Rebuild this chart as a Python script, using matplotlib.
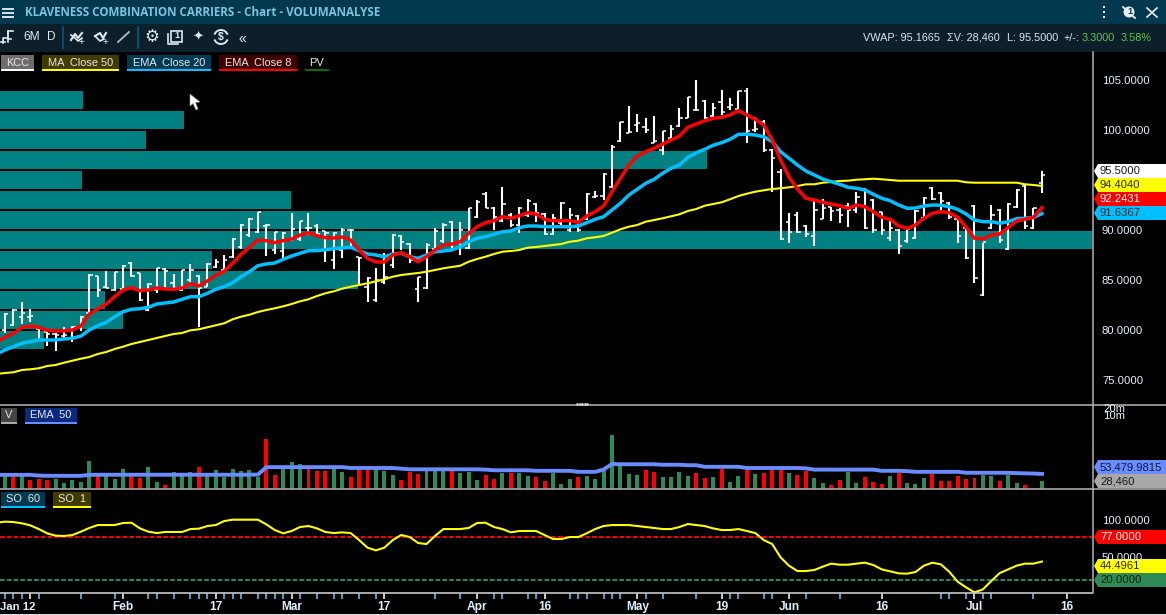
import numpy as np
import matplotlib
matplotlib.use('Agg')
import matplotlib.pyplot as plt
from matplotlib.patches import Arc, Circle, Polygon, Rectangle

plt.rcParams['font.family'] = ['Liberation Sans', 'DejaVu Sans']

# OHLC, one value per trading day
highs = [81.67, 82.07, 82.77, 82.07, 80.17, 79.83, 79.67, 80.33, 80.4, 81.4, 85.6, 85.43, 85.9, 85.83, 86.5, 86.77, 85.73, 84.67, 86.23, 86.23, 85.6, 86.0, 86.57, 85.5, 86.73, 87.07, 87.5, 89.17, 90.57, 91.23, 91.83, 90.6, 89.83, 89.83, 91.67, 90.93, 91.67, 90.57, 89.93, 89.77, 90.23, 90.1, 87.33, 85.27, 86.23, 87.67, 89.57,
         89.5, 88.67, 85.33, 88.73, 90.17, 90.73, 90.93, 90.83, 92.23, 93.0, 93.83, 92.27, 94.27, 91.67, 92.33, 93.07, 92.73, 91.73, 91.57, 92.83, 92.17, 91.5, 93.67, 93.93, 95.67, 98.5, 100.83, 102.4, 101.57, 101.17, 101.4, 99.93, 100.5, 102.23, 103.33, 105.0, 103.0, 102.73, 104.0, 103.17, 103.93, 104.17, 101.33, 101.0,
         98.1, 96.07, 91.73, 91.83, 90.5, 93.07, 93.07, 92.33, 92.17, 92.67, 93.83, 94.23, 93.07, 91.83, 91.0, 90.07, 90.33, 92.0, 93.33, 94.27, 93.83, 92.83, 91.17, 90.33, 92.5, 88.67, 92.5, 92.07, 92.73, 94.07, 94.57, 92.23, 95.93]
lows = [79.67, 80.4, 80.6, 80.83, 79.1, 78.43, 77.93, 79.0, 78.83, 79.93, 81.67, 83.27, 84.17, 83.93, 84.0, 85.33, 82.93, 81.9, 83.73, 84.0, 84.0, 83.93, 84.67, 80.33, 84.27, 86.17, 85.83, 87.17, 88.07, 89.33, 89.67, 87.43, 87.57, 87.07, 88.93, 88.93, 89.5, 89.33, 86.83, 86.1, 87.17, 88.17, 84.6, 82.83, 82.83, 84.57, 86.17,
        88.0, 86.67, 82.83, 84.07, 88.0, 88.67, 88.0, 87.5, 88.07, 91.23, 92.17, 90.0, 90.83, 90.33, 89.67, 91.33, 90.83, 89.5, 89.5, 90.5, 89.83, 89.83, 91.0, 93.17, 93.0, 94.17, 98.83, 99.67, 99.83, 99.67, 98.67, 97.5, 99.17, 100.33, 101.17, 101.93, 101.0, 101.33, 101.5, 102.0, 102.0, 98.67, 99.83, 97.83,
        93.83, 89.0, 88.73, 89.73, 89.33, 88.4, 91.07, 90.93, 90.67, 90.33, 91.67, 90.07, 89.73, 89.5, 88.93, 87.6, 88.73, 89.07, 91.07, 93.0, 91.67, 91.07, 88.73, 87.07, 84.67, 83.43, 90.07, 88.73, 88.0, 92.17, 90.07, 90.07, 93.67]
opens = [80.0, 80.5, 81.3, 81.3, 80.1, 79.8, 79.6, 79.4, 79.9, 80.3, 81.7, 85.4, 84.3, 84.0, 84.1, 86.7, 85.7, 82.0, 84.0, 86.1, 84.7, 84.0, 85.0, 85.4, 84.3, 86.3, 86.0, 87.3, 88.3, 89.5, 89.8, 90.4, 88.0, 87.9, 89.0, 89.1, 90.2, 90.4, 89.9, 87.0, 88.0, 90.0, 87.3, 84.3, 83.0, 84.8, 86.5,
         89.4, 88.6, 84.1, 84.2, 88.1, 88.9, 90.8, 88.3, 88.2, 91.3, 93.6, 92.2, 90.9, 91.5, 90.5, 91.5, 92.6, 91.6, 89.6, 90.7, 90.0, 91.4, 91.1, 93.3, 93.4, 94.3, 98.9, 99.7, 100.5, 100.3, 98.7, 98.0, 99.2, 100.4, 101.2, 102.0, 102.9, 101.4, 102.8, 102.3, 102.1, 103.9, 100.0, 100.8,
         98.0, 95.8, 90.8, 91.5, 90.4, 89.4, 91.1, 92.3, 92.0, 92.4, 92.0, 94.1, 93.0, 91.8, 89.2, 90.0, 88.9, 89.2, 91.2, 94.2, 93.7, 92.7, 91.1, 90.2, 92.4, 83.5, 90.2, 92.0, 88.1, 92.3, 94.4, 90.2, 94.7]
closes = [81.6, 82.0, 81.7, 81.4, 80.1, 79.6, 79.5, 79.5, 80.3, 81.3, 85.5, 84.0, 84.2, 85.8, 86.4, 85.4, 83.0, 84.6, 86.2, 85.9, 84.2, 86.0, 86.0, 84.2, 86.6, 86.8, 87.0, 89.1, 90.5, 91.1, 91.8, 90.5, 89.8, 89.7, 90.1, 90.9, 90.2, 89.6, 89.7, 89.7, 90.0, 90.0, 87.2, 85.2, 85.0, 85.3, 89.5,
          88.8, 87.0, 85.3, 88.5, 89.9, 90.5, 88.1, 90.0, 92.2, 92.8, 92.2, 91.3, 92.6, 90.5, 92.2, 92.9, 91.7, 89.6, 91.2, 92.7, 91.5, 90.0, 93.6, 93.4, 95.6, 98.3, 100.8, 99.8, 100.7, 100.0, 98.9, 99.9, 100.1, 101.2, 103.3, 102.0, 101.2, 102.2, 101.8, 102.5, 103.9, 99.9, 100.1, 98.0,
          97.2, 89.1, 89.8, 89.8, 89.6, 92.0, 92.2, 91.9, 91.5, 92.0, 93.3, 90.2, 90.0, 90.0, 90.2, 88.4, 90.1, 91.9, 93.2, 93.1, 92.9, 91.3, 89.4, 87.2, 85.2, 88.8, 91.5, 89.0, 92.6, 94.0, 90.4, 92.2, 95.5]

# moving averages, first value sits just off the left edge (day -1)
ma50 = [75.6, 75.7, 75.77, 76.0, 76.07, 76.17, 76.4, 76.5, 76.73, 76.93, 77.13, 77.3, 77.6, 77.8, 78.1, 78.33, 78.6, 78.8, 79.0, 79.2, 79.4, 79.6, 79.7, 79.97, 80.07, 80.27, 80.47, 80.67, 81.07, 81.33, 81.53, 81.8, 82.0, 82.17, 82.37, 82.6, 82.87, 83.07, 83.4, 83.67, 83.87, 84.13, 84.33, 84.5, 84.67, 84.87, 85.07, 85.33,
        85.5, 85.6, 85.7, 85.83, 86.0, 86.17, 86.3, 86.43, 86.83, 87.1, 87.33, 87.6, 87.83, 87.9, 88.0, 88.23, 88.3, 88.4, 88.5, 88.6, 88.83, 88.93, 89.17, 89.27, 89.4, 89.73, 90.07, 90.33, 90.5, 90.83, 91.0, 91.17, 91.37, 91.57, 91.9, 92.1, 92.43, 92.6, 92.77, 93.07, 93.4, 93.63, 93.83, 93.97, 94.1, 94.17, 94.27, 94.4,
        94.57, 94.57, 94.73, 94.8, 94.9, 94.93, 95.03, 95.07, 95.13, 95.07, 95.0, 94.93, 94.93, 94.93, 94.93, 94.93, 94.93, 94.93, 94.93, 94.77, 94.73, 94.73, 94.73, 94.73, 94.73, 94.73, 94.57, 94.5, 94.404]
ema20 = [77.6, 78.0, 78.33, 78.67, 78.83, 79.0, 79.0, 79.0, 79.1, 79.17, 79.4, 80.0, 80.43, 80.77, 81.33, 81.83, 82.07, 82.13, 82.27, 82.6, 82.7, 82.8, 83.07, 83.33, 83.33, 83.67, 84.07, 84.33, 84.73, 85.33, 85.83, 86.43, 86.6, 86.7, 87.07, 87.4, 87.67, 87.93, 87.93, 88.03, 88.13, 88.2, 88.27, 87.93, 87.6, 87.5, 87.33, 87.6,
         87.67, 87.33, 87.17, 87.5, 87.83, 87.9, 88.0, 88.33, 88.83, 89.17, 89.33, 89.57, 89.83, 89.9, 90.23, 90.4, 90.4, 90.33, 90.33, 90.33, 90.33, 90.4, 90.73, 91.07, 91.33, 92.0, 92.67, 93.5, 94.07, 94.67, 95.07, 95.67, 96.17, 96.5, 97.27, 97.73, 98.07, 98.47, 98.73, 99.07, 99.57, 99.57, 99.5, 99.33, 98.83, 97.83, 97.17, 96.5,
         95.9, 95.5, 95.1, 94.83, 94.57, 94.27, 94.17, 94.0, 93.57, 93.17, 92.93, 92.5, 92.17, 92.2, 92.4, 92.5, 92.47, 92.33, 92.07, 91.6, 91.0, 90.83, 90.83, 90.67, 90.83, 91.13, 91.17, 91.27, 91.6367]
ema8 = [78.8, 79.27, 79.67, 80.27, 80.4, 80.27, 79.97, 79.9, 79.9, 80.0, 80.4, 81.6, 82.1, 82.6, 83.33, 84.0, 84.23, 83.93, 84.0, 84.2, 84.1, 84.07, 84.2, 84.63, 84.4, 84.9, 85.47, 85.87, 86.67, 87.57, 88.27, 89.0, 88.93, 88.73, 88.93, 89.1, 89.5, 89.73, 89.43, 89.23, 89.2, 89.3, 89.0, 88.0, 87.17, 86.8, 86.8, 87.5,
        87.73, 87.33, 86.83, 87.33, 88.0, 88.5, 88.6, 88.83, 89.67, 90.33, 90.73, 90.93, 91.33, 91.17, 91.43, 91.73, 91.6, 91.07, 90.93, 90.93, 90.93, 90.77, 91.4, 91.83, 92.4, 93.83, 95.17, 96.5, 97.4, 97.83, 98.17, 98.6, 99.0, 99.4, 100.27, 100.6, 100.93, 101.17, 101.27, 101.5, 101.93, 101.5, 101.07, 100.5, 99.0, 97.0, 95.3, 94.1,
        93.17, 93.0, 92.77, 92.6, 92.43, 92.17, 92.5, 92.33, 91.83, 91.27, 91.07, 90.4, 90.17, 90.5, 91.17, 91.67, 91.83, 91.73, 91.27, 90.27, 89.17, 89.1, 89.5, 89.6, 90.27, 90.9, 91.07, 91.27, 92.2431]

# volume profile: price row and row length in screen pixels of the left edge
pv_prices = [103, 101, 99, 97, 95, 93, 91, 89, 87, 85, 83, 81, 79]
pv_lengths = [83, 184, 146, 707, 82, 291, 471, 1092, 212, 358, 105, 123, 44]

# volume in thousands, u = green bar, d = red bar
volumes = [42, 39.5, 42, 29, 33.3, 29, 31.5, 23.7, 29, 24.3, 167, 42, 42, 33.3, 84.6, 42, 36.3, 100, 24.3, 18.7, 60.3, 42, 60.3, 100, 46.8, 71.5, 39.5, 84.6, 65.7, 71.5, 39.5, 1170, 46.8, 77.9, 153, 129, 77.9, 65.7, 65.7, 77.9, 60.3, 39.5, 77.9, 77.9, 77.9, 65.7, 46.8,
           30.6, 60.3, 51, 71.5, 71.5, 65.7, 65.7, 55.4, 60.3, 30.6, 46.8, 33.3, 55.4, 55.4, 55.4, 43, 39.5, 28.5, 55.4, 20, 33.3, 39.5, 43, 33.3, 91.8, 1674, 109, 51, 46.8, 71.5, 60.3, 39.5, 39.5, 60.3, 43, 55.4, 36.3, 39.5, 77.9, 25.9, 43, 71.5, 51, 55.4, 71.5, 71.5, 55.4, 46.8,
           65.7, 36.3, 21.8, 18.2, 30.6, 60.3, 21.8, 39.5, 25.9, 20, 43, 55.4, 23.7, 20, 36.3, 51, 28.5, 28.5, 43, 33.3, 36.3, 46.8, 43, 28.5, 46.8, 21.8, 18.2, 14.4, 28.46]
vol_dirs = ('ududdduuuu' 'uduuudduud' 'uuuduuuuuu' 'udduuudddu' 'udddu' 'uu'
            'ddduuuduuu' 'dduduudduu' 'uduuuuuuud' 'duuuuddudu' 'ududdduddu'
            'udduudddud' 'uuuddddddu' 'uduuduu')
vol_ema = [49, 49, 49, 49, 49, 46, 45, 45, 45, 45, 45, 49, 49.5, 49.5, 49.5, 49.5, 49.5, 49.5, 49.5, 49.5, 49.5, 49.5, 49.5, 49.5, 49.5, 49.5, 49.5, 49.5, 49.5, 49.5, 50, 50, 97, 97, 97, 97, 97, 97, 97, 97, 97, 97, 90, 90, 90, 90, 90, 90,
           84.6, 80, 80, 80, 80, 80, 80, 80, 80, 80, 78, 73.5, 73.5, 73.5, 73.5, 73.5, 70, 70, 70, 70, 70, 64, 64, 64, 78, 129, 125, 125, 125, 125, 125, 120, 120, 120, 115, 115, 100, 100, 100, 100, 100, 90, 90, 90, 90, 90, 90, 90,
           87, 78, 78, 78, 78, 78, 78, 78, 78, 70, 70, 70, 68, 64, 64, 64, 64, 64, 64, 59, 59, 59, 59, 59, 59, 57, 56, 55, 53.48]

# stochastic, SO 1, first value just off the left edge as well
so1 = [96, 97.4, 96.9, 95.2, 92.5, 87.6, 81.9, 78.8, 78.4, 79.7, 84.1, 89, 92.9, 92.9, 92.9, 95.6, 96, 88.5, 84.1, 82.3, 83.7, 83.7, 83.7, 87.6, 88.1, 91.6, 92.9, 98.2, 100, 100, 100, 100, 93.8, 86.3, 81.9, 85, 90.3, 91.6, 88.5, 83.7, 82.3, 83.2, 82.3, 73, 62.9, 59.3, 62.9, 73,
       79.7, 77, 69.1, 67.7, 78.4, 87.6, 87.6, 87.6, 89, 95.6, 96, 90.3, 87.6, 83.2, 85, 85, 85, 79.7, 74.4, 74.4, 77, 77, 81.9, 87.6, 91.6, 92.9, 92.9, 92.9, 91.6, 90.3, 89, 87.6, 87.6, 90.3, 94.3, 92.9, 91.6, 88.5, 86.3, 86.3, 87.6, 85, 82.3, 73,
       67.7, 50.1, 39, 31.9, 31.9, 33.3, 37.7, 41.7, 40.3, 40.3, 41.7, 43, 39.9, 34.1, 31.5, 28.8, 28.4, 30.6, 39, 43, 40.8, 31.1, 17.8, 10.3, 3.6, 7.6, 18.7, 29.3, 34.1, 39, 41.7, 41.7, 44.4961]
so_upper = 77
so_lower = 20

# date ticks
date_days = [3, 14, 25, 34, 45, 56, 64, 75, 85, 93, 104, 115, 126]
date_labels = ['', 'Feb', '17', 'Mar', '17', 'Apr', '16', 'May', '19', 'Jun', '16', 'Jul', '16']
blue_days = [0, 1, 2, 4, 9, 13, 17, 18, 20, 22, 23, 24, 27, 28, 30, 31, 32, 33, 35, 37, 39, 40, 42, 44, 51, 54, 58, 59, 62, 63, 67, 68, 69, 71, 72, 73, 76, 82, 86, 87, 90, 91, 95, 99, 111, 112, 114, 116, 117, 122]
red_days = [26, 78]

W, H = 1166, 615
BG = '#000000'
TEAL = '#008080'
YELLOW = '#ffff00'
CYAN = '#00bfff'
RED = '#ff0000'
GREEN = '#2e8b57'
PERI = '#6a8cff'
LABEL = '#e6f2fb'


def px_axes(x0, y0, x1, y1, **kw):
    return fig.add_axes([x0 / W, 1 - y1 / H, (x1 - x0) / W, (y1 - y0) / H], **kw)


fig = plt.figure(figsize=(W / 100, H / 100), dpi=100, facecolor=BG)

days = np.arange(len(highs))
line_days = np.arange(-1, len(highs))
x_lim = (-0.593, 128.94)

# volume profile sits behind the price bars
ax_pv = px_axes(0, 52, 1092, 404.5, facecolor=BG)
ax_pv.barh(pv_prices, pv_lengths, height=1.8, color=TEAL)
ax_pv.set_xlim(0, 1092)
ax_pv.set_ylim(72.55, 107.8)
ax_pv.axis('off')

# price panel
ax = px_axes(0, 52, 1092, 404.5)
ax.patch.set_alpha(0)
ax.vlines(days, lows, highs, color='white', lw=1.5, zorder=2)
ax.hlines(opens, days - 0.38, days, color='white', lw=1.1, zorder=2)
ax.hlines(closes, days, days + 0.38, color='white', lw=1.1, zorder=2)
ax.plot(line_days, ma50, color=YELLOW, lw=1.5, zorder=3)
ax.plot(line_days, ema20, color=CYAN, lw=2.5, zorder=4)
ax.plot(line_days, ema8, color=RED, lw=2.5, zorder=5)
ax.set_xlim(x_lim)
ax.set_ylim(72.55, 107.8)
ax.axis('off')

# volume panel, log scale
ax_v = px_axes(0, 405, 1092, 489, facecolor=BG)
vol = np.array(volumes) * 1000
vol_colors = [GREEN if d == 'u' else RED for d in vol_dirs]
ax_v.bar(days, vol, width=0.47, bottom=1000, color=vol_colors)
ax_v.plot(line_days, np.array(vol_ema) * 1000, color=PERI, lw=2.8)
ax_v.set_yscale('log')
ax_v.set_xlim(x_lim)
ax_v.set_ylim(14000, 23800000)
ax_v.axis('off')

# stochastic panel
ax_s = px_axes(0, 490, 1092, 593, facecolor=BG)
ax_s.axhline(so_upper, color=RED, lw=1.4, ls=(0, (2.4, 1.1)))
ax_s.axhline(so_lower, color=GREEN, lw=1.4, ls=(0, (2.4, 1.1)))
ax_s.plot(line_days, so1, color=YELLOW, lw=1.5)
ax_s.set_xlim(x_lim)
ax_s.set_ylim(2.76, 139.4)
ax_s.set_yticks([])
for side in ['left', 'top', 'right']:
    ax_s.spines[side].set_visible(False)
ax_s.spines['bottom'].set_color('#c8c8c8')
ax_s.spines['bottom'].set_linewidth(1.2)
ax_s.set_xticks(date_days, date_labels)
ax_s.set_xticks(blue_days + red_days, minor=True)
ax_s.tick_params(axis='x', which='major', colors='white', length=4.2, width=1.1, pad=1.5, labelsize=8.6)
ax_s.tick_params(axis='x', which='minor', color='#66ccff', length=4.2, width=1.1)
for tick, day in zip(ax_s.xaxis.get_minor_ticks(), blue_days + red_days):
    if day in red_days:
        tick.tick1line.set_color('#ff6060')
for lbl in ax_s.get_xticklabels():
    lbl.set_fontweight('bold')
    lbl.set_color('#dff0fb')

# window chrome, drawn in pixel coordinates
ui = fig.add_axes([0, 0, 1, 1])
ui.patch.set_alpha(0)
ui.set_xlim(0, W)
ui.set_ylim(H, 0)
ui.axis('off')

ui.add_patch(Rectangle((0, 0), W, 24, color='#003850', lw=0))
ui.add_patch(Rectangle((0, 24), W, 27.5, color='#0c1f2b', lw=0))
ui.add_patch(Rectangle((0, 614), W, 1, color='#dddddd', lw=0))
for y in [8.5, 12.5, 16.5]:
    ui.plot([2, 14], [y, y], color='#d5e6ee', lw=1.4, solid_capstyle='butt')
ui.text(25, 12, 'KLAVENESS COMBINATION CARRIERS - Chart - VOLUMANALYSE', color='#7cc4dc',
        fontsize=8.35, fontweight='bold', family=['Open Sans', 'DejaVu Sans'], va='center')

# toolbar
icon = '#dfe9ef'
ui.plot([3, 3, 8, 8, 13], [43, 38, 38, 31, 31], color=icon, lw=1.2)
ui.plot([1, 5], [42, 42], color=icon, lw=1.2)
ui.plot([8, 8], [31, 42], color=icon, lw=1.2)
ui.plot([8, 11], [39, 39], color=icon, lw=1.2)
ui.text(23, 37, '6M', color=icon, fontsize=8.6, va='center')
ui.text(47, 37, 'D', color=icon, fontsize=8.6, va='center')
ui.plot([62.5, 62.5], [27, 48], color='#0b5878', lw=1.2)
ui.plot([137.5, 137.5], [27, 48], color='#0b5878', lw=1.2)
ui.plot([71, 75, 78, 82], [40, 34, 38, 33], color=icon, lw=1.5)
ui.plot([71, 75, 78, 82], [35, 38, 41, 38], color=icon, lw=1.2)
ui.text(81, 42, '+', color=icon, fontsize=7, ha='center', va='center')
ui.plot([95, 100, 103, 106], [36, 33, 38, 33], color=icon, lw=1.5)
ui.plot([95, 100, 104], [36, 41, 39], color=icon, lw=1.2)
ui.text(105, 42, '+', color=icon, fontsize=7, ha='center', va='center')
ui.plot([118, 129], [42, 32], color='#aebcc5', lw=1.3)
ui.text(152, 37, '\u2699', color=icon, fontsize=12, ha='center', va='center', family='DejaVu Sans')
ui.add_patch(Rectangle((171, 30.5), 11, 11, fill=False, ec=icon, lw=1.2))
ui.plot([168, 168, 178], [34, 44, 44], color=icon, lw=1.2)
ui.text(176.5, 36, '1', color=icon, fontsize=6.5, ha='center', va='center', fontweight='bold')
ui.text(198, 37, '\u2726', color=icon, fontsize=9.5, ha='center', va='center', family='DejaVu Sans')
ui.add_patch(Arc((221, 37), 14, 14, theta1=200, theta2=340, ec=icon, lw=1.4))
ui.add_patch(Arc((221, 37), 14, 14, theta1=20, theta2=160, ec=icon, lw=1.4))
ui.text(221, 37, '$', color=icon, fontsize=7.5, ha='center', va='center', fontweight='bold')
ui.text(242, 39, '\u00ab', color=icon, fontsize=10, ha='center', va='center')

# top right
for y in [7, 12, 17]:
    ui.plot([1104], [y], marker='s', ms=2, mew=0, color='#e8f0f4')
ui.add_patch(Circle((1129, 12), 5.5, fc='#e8f0f4', ec='none'))
ui.plot([1123, 1135], [7, 18], color='#e8f0f4', lw=1.3)
ui.text(1130, 12, '1', color='#003850', fontsize=6.5, ha='center', va='center', fontweight='bold')
ui.plot([1147, 1157], [8, 17], color='#e8f0f4', lw=1.2)
ui.plot([1147, 1157], [17, 8], color='#e8f0f4', lw=1.2)
for x, txt in [(863, 'VWAP: 95.1665'), (947, '\u03a3V: 28,460'), (1007, 'L: 95.5000'), (1063, '+/-:')]:
    ui.text(x, 41, txt, color='#d8e8f2', fontsize=7.8, va='baseline')
ui.text(1082, 41, '3.3000', color='#63c24a', fontsize=7.8, va='baseline')
ui.text(1121, 41, '3.58%', color='#63c24a', fontsize=7.8, va='baseline')


def chip(x0, x1, y0, text, bg, under):
    ui.add_patch(Rectangle((x0, y0), x1 - x0, 14, color=bg, lw=0))
    ui.add_patch(Rectangle((x0, y0 + 14), x1 - x0, 2, color=under, lw=0))
    ui.text((x0 + x1) / 2, y0 + 7.5, text, color='#e8e8e8', fontsize=7.9, ha='center', va='center')


chip(1, 34, 55, 'KCC', '#6c6c6c', 'white')
chip(42, 119, 55, 'MA  Close 50', '#403c00', YELLOW)
chip(127, 211, 55, 'EMA  Close 20', '#003a52', CYAN)
chip(219, 297, 55, 'EMA  Close 8', '#400000', RED)
chip(305, 329, 55, 'PV', BG, '#007000')
chip(1, 17, 408, 'V', '#444444', '#a8a8a8')
chip(25, 77, 408, 'EMA  50', '#0a2a80', PERI)
chip(1, 45, 492, 'SO  60', '#003a52', CYAN)
chip(53, 91, 492, 'SO  1', '#403c00', YELLOW)

# panel borders
ui.plot([0, W], [404.7, 404.7], color='#9a9a9a', lw=1.3)
ui.plot([0, W], [489, 489], color='#9a9a9a', lw=1.3)
ui.plot([1092.5, 1092.5], [52, 593], color='#b4b4b4', lw=1.1)
for x in np.arange(577, 590, 2.6):
    ui.plot([x], [404.2], marker='s', ms=0.9, color='#d0d0d0')

ui.text(0, 607, 'Jan 12', color='#dff0fb', fontsize=8.2, fontweight='bold', va='center')

# right axis labels
for val, y in [('105.0000', 80.5), ('100.0000', 130.5), ('90.0000', 230.5), ('85.0000', 280.5),
               ('80.0000', 330.5), ('75.0000', 380.5), ('100.0000', 520.5), ('50.0000', 558)]:
    ui.text(1102, y, val, color=LABEL, fontsize=8.1, va='center')
ui.text(1103, 408.5, '20m', color=LABEL, fontsize=8.1, va='center')
ui.text(1103, 416, '10m', color=LABEL, fontsize=8.1, va='center')


def tag(y, text, bg, fg):
    ui.add_patch(Polygon([(1094, y), (1098, y - 7), (1166, y - 7), (1166, y + 7), (1098, y + 7)], color=bg, lw=0))
    ui.text(1100, y + 0.3, text, color=fg, fontsize=8.1, va='center')


tag(171, '95.5000', 'white', '#1a1a1a')
tag(185, '94.4040', YELLOW, '#2a2a00')
tag(199, '92.2431', RED, 'white')
tag(213, '91.6367', CYAN, '#002a3a')
tag(467, '53,479.9815', PERI, '#0a1a40')
tag(481, '28,460', '#a8a8a8', '#1a1a1a')
tag(537, '77.0000', RED, 'white')
tag(566, '44.4961', YELLOW, '#2a2a00')
tag(580, '20.0000', GREEN, '#0a1a10')

# mouse pointer
ui.add_patch(Polygon([(190, 94), (190, 106), (193, 103.5), (196, 110), (198, 109), (195.5, 102.5), (200, 102)],
                     fc='white', ec='#999999', lw=0.4))

fig.savefig('out.png', dpi=100, facecolor=BG)
